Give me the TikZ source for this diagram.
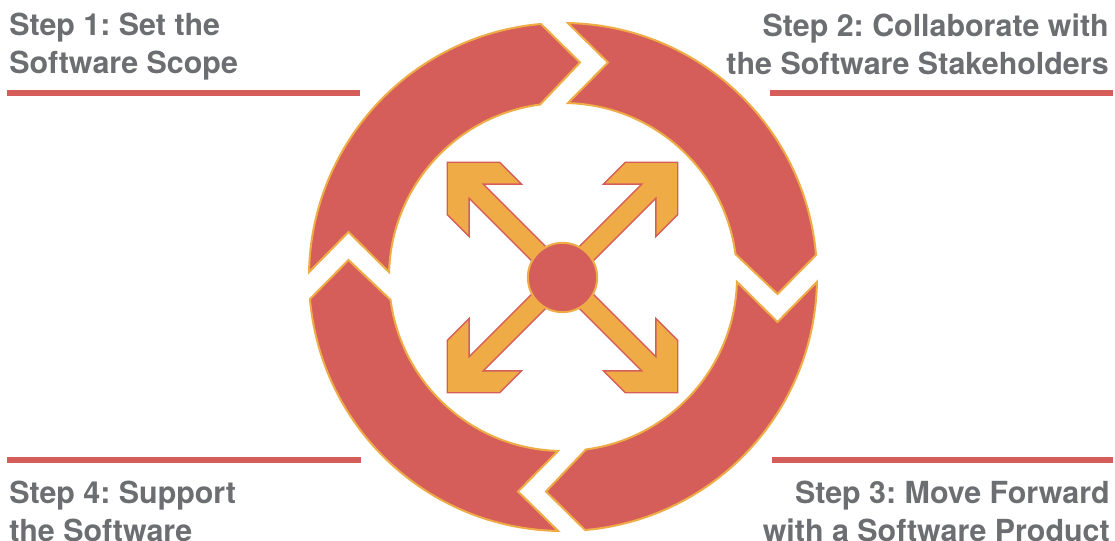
\documentclass[tikz,border=0pt]{standalone}
\usepackage{fontspec}
\setmainfont{TeX Gyre Heros}
\usetikzlibrary{positioning}
\definecolor{ringred}{RGB}{213,94,90}
\definecolor{ringorange}{RGB}{239,172,70}
\definecolor{textgray}{RGB}{109,110,113}
\frenchspacing

\begin{document}
\begin{tikzpicture}[
    x=0.75pt, y=0.75pt,
    segment/.style={fill=ringred, draw=ringorange, line width=1.5pt}, % Ring pieces
    crossarrow/.style={fill=ringorange, draw=ringred, line width=1.1pt},
    steptext/.style={inner sep=0pt, text=textgray,
        font=\fontsize{22.8}{28.5}\selectfont\bfseries},
    rule/.style={draw=ringred, line width=4.5pt}
]
    \useasboundingbox (0,0) rectangle (1115,540);

    % Ring of four segments
    \begin{scope}[shift={(563,263)}]
        \foreach \a in {0,-90,-180,-270}{
            \draw[segment, rotate=\a] (94.97:254) -- (17,214.5) -- (97.55:174)
                arc[start angle=97.55, end angle=178.4, radius=174]
                -- (-214.5,45) -- (178.9:254)
                arc[start angle=178.9, end angle=94.97, radius=254] -- cycle;
        }
    \end{scope}

    % Cross of arrows
    \begin{scope}[shift={(562.5,262.5)}]
        \foreach \a in {45,135}{
            \draw[crossarrow, rotate=\a] (163,0) -- (126,37) -- (95,37) -- (122,10)
                -- (-122,10) -- (-95,37) -- (-126,37) -- (-163,0) -- (-126,-37)
                -- (-95,-37) -- (-122,-10) -- (122,-10) -- (95,-37) -- (126,-37) -- cycle;
        }
        \node (hub) [circle, fill=ringred, draw=ringorange, line width=1.5pt,
            minimum size=52pt, inner sep=0pt] at (0,0) {};
    \end{scope}

    % Step labels
    \node (s1) [steptext, anchor=north west, align=left] at (9,527) {Step 1: Set the\\Software Scope};
    \node (s2) [steptext, anchor=north east, align=right] at (1109,526) {Step 2: Collaborate with\\the Software Stakeholders};
    \node (s3) [steptext, anchor=north east, align=right] at (1110,59) {Step 3: Move Forward\\with a Software Product};
    \node (s4) [steptext, anchor=north west, align=left] at (9,59) {Step 4: Support\\the Software};

    % Rules under and over the labels
    \draw[rule] (7,446.5) -- ++(353,0);
    \draw[rule] (770,446.5) -- ++(343,0);
    \draw[rule] (7,80) -- ++(354,0);
    \draw[rule] (772,80) -- ++(341,0);

\end{tikzpicture}
\end{document}
